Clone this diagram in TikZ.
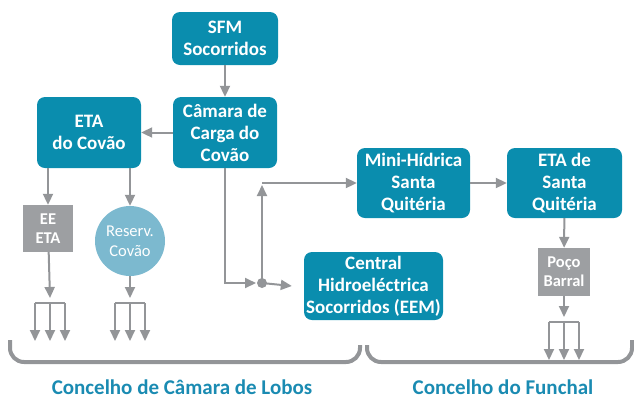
\documentclass[tikz,border=0pt]{standalone}
\usepackage{fontspec}
\setmainfont{Carlito}
\usepackage{xcolor}
\usetikzlibrary{arrows.meta}
\definecolor{boxblue}{HTML}{0A8DAE}
\definecolor{boxgrey}{HTML}{9D9FA2}
\definecolor{linegrey}{HTML}{939598}
\definecolor{poolblue}{HTML}{7CB9CF}
\definecolor{labelblue}{HTML}{1A8BB2}

\begin{document}
\begin{tikzpicture}[
    x                  = 1pt,
    y                  = -1pt,
    every node/.style  = {font=\bfseries\fontsize{19}{22}\selectfont, text=white, align=center, inner sep=0pt},
    bluebox/.style     = {fill=boxblue, rounded corners=8pt},
    greybox/.style     = {fill=boxgrey, font=\bfseries\fontsize{16.5}{19}\selectfont},
    line/.style        = {draw=linegrey, line width=2pt},
    arrow/.style       = {line, -{Triangle[length=11pt,width=10pt]}},
    bracket/.style     = {draw=linegrey, line width=4pt, rounded corners=14pt},
    region/.style      = {text=labelblue, font=\bfseries\fontsize{21}{24}\selectfont}
  ]
\useasboundingbox (0,0) rectangle (634,400);

% boxes
\node[bluebox, minimum width=106pt, minimum height=53pt] (sfm)     at (225,38.5)  {SFM\\Socorridos};
\node[bluebox, minimum width=104pt, minimum height=71pt] (camara)  at (225,132.5) {Câmara de\\Carga do\\Covão};
\node[bluebox, minimum width=104pt, minimum height=71pt] (etacov)  at (89,132.5)  {ETA\\do Covão};
\node[bluebox, minimum width=113pt, minimum height=70pt] (mini)    at (413.5,183) {Mini-Hídrica\\Santa\\Quitéria};
\node[bluebox, minimum width=115pt, minimum height=70pt] (etasq)   at (564.5,183) {ETA de\\Santa\\Quitéria};
\node[bluebox, minimum width=139pt, minimum height=68pt] (central) at (373.5,286) {Central\\Hidroeléctrica\\Socorridos (EEM)};
\node[greybox, minimum width=50pt, minimum height=47pt]  (ee)      at (48,228.5)  {EE\\ETA};
\node[greybox, minimum width=52pt, minimum height=48pt]  (poco)    at (564,272)   {Poço\\Barral};
\node[circle, fill=poolblue, minimum size=70pt, font=\fontsize{16.5}{20}\selectfont] (reserv) at (130,241) {Reserv.\\Covão};
\fill[linegrey] (262,283) circle (5pt) coordinate (split);

% connectors
\draw[arrow] (sfm) -- (camara);
\draw[arrow] (camara) -- (etacov);
\draw[arrow] (etacov.south -| ee) -- (ee);
\draw[arrow] (etacov.south -| reserv) -- (reserv);
\draw[arrow] (camara) |- ([xshift=-6pt]split);
\draw[arrow] (split) -- ([xshift=-12pt]central.west);
\coordinate (corner) at (262,183);
\draw[arrow] (split) -- ([yshift=-2pt]corner);
\draw[arrow] (corner) -- (mini);
\draw[arrow] (mini) -- (etasq);
\draw[arrow] (etasq) -- (poco);

% outflows
\foreach \src/\fx/\fy in {ee/50/303, reserv/130/303, poco/564/322} {
  \coordinate (\src-fork) at (\fx,\fy);
  \draw[arrow] (\src) -- (\src-fork |- 0,{\fy-5});
  \draw[line] ([xshift=-15pt]\src-fork) -- ([xshift=15pt]\src-fork);
  \foreach \dx [count=\i] in {-15,0,15}
    \draw[arrow] ([xshift=\dx pt]\src-fork) -- ++(0,38) coordinate (\src-out\i);
}

% municipalities
\draw[bracket] (10,340) -- (10,362) -- (360,362) -- (360,345);
\draw[bracket] (367,345) -- (367,362) -- (632,362) -- (632,340);
\node[region] (lobos)   at (182,387) {Concelho de Câmara de Lobos};
\node[region] (funchal) at (503,387) {Concelho do Funchal};

\end{tikzpicture}
\end{document}
